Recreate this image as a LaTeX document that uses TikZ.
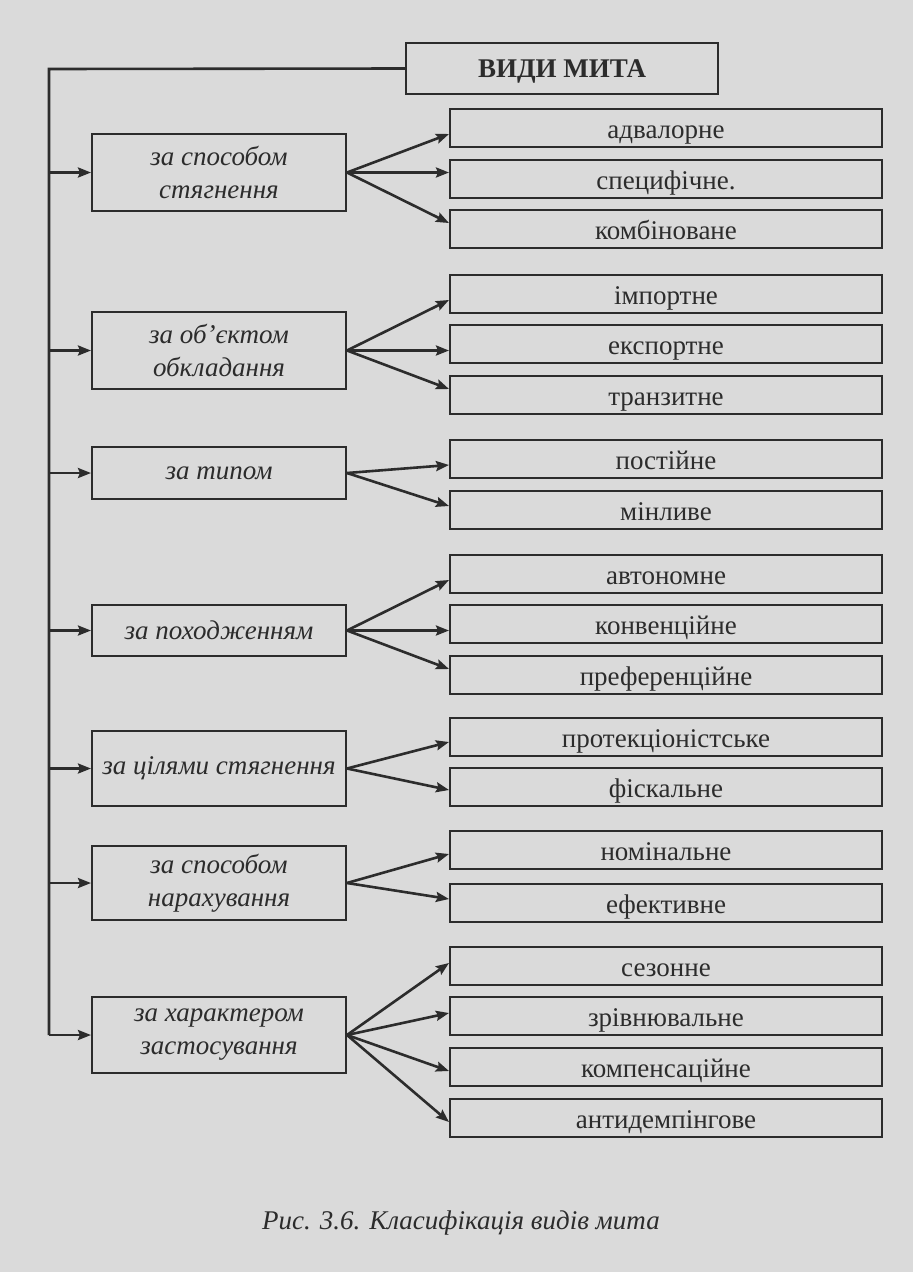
\documentclass[tikz,border=0pt]{standalone}
\usepackage{fontspec}
\setmainfont{Liberation Serif}
\usepackage{tikz}
\usetikzlibrary{positioning, arrows.meta, calc}

\definecolor{paper}{RGB}{218,218,218}
\definecolor{ink}{RGB}{44,44,44}

\begin{document}
\begin{tikzpicture}[x=1pt, y=-1pt,
    title/.style={draw=ink, rectangle, line width=2pt,
                  minimum width=312pt, minimum height=51pt, inner sep=0pt,
                  text height=19pt, text depth=1pt,
                  font=\fontsize{27}{30}\selectfont\bfseries, text=ink},
    crit/.style={draw=ink, rectangle, line width=2pt,
                 minimum width=254pt, inner sep=0pt, align=center,
                 font=\fontsize{27}{33}\selectfont\itshape, text=ink},
    kind/.style={draw=ink, rectangle, line width=2pt,
                 minimum width=432pt, minimum height=38pt, inner sep=0pt,
                 text height=22pt, text depth=2pt,
                 font=\fontsize{27}{30}\selectfont, text=ink},
    link/.style={draw=ink, line width=2.6pt, -{Stealth[length=13pt, width=10pt, inset=2pt]}},
    spine/.style={draw=ink, line width=2.6pt},
    caption/.style={font=\fontsize{27}{30}\selectfont\itshape, text=ink},
]

% === page ===
\fill[paper] (0,0) rectangle (913,1272);
\useasboundingbox (0,0) rectangle (913,1272);

% === title and left bus ===
\node[title] (vydy) at (562,68.5) {ВИДИ МИТА};
\coordinate (kut) at (49,69);
\coordinate (niz) at (49,1035);
\draw[spine] (vydy.west) -- (kut) -- (niz);

% === criteria ===
\node[crit, minimum height=77pt] (c1) at (219,172.5) {за способом\\стягнення};
\node[crit, minimum height=77pt] (c2) at (219,350.5) {за об’єктом\\обкладання};
\node[crit, minimum height=52pt] (c3) at (219,473)   {за типом};
\node[crit, minimum height=51pt] (c4) at (219,630.5) {за походженням};
\node[crit, minimum height=75pt] (c5) at (219,768.5) {за цілями стягнення};
\node[crit, minimum height=74pt] (c6) at (219,883)   {за способом\\нарахування};
\node[crit, minimum height=76pt] (c7) at (219,1035)  {за характером\\застосування};

\draw[link] (kut |- c1.west) -- (c1.west);
\draw[link] (kut |- c2.west) -- (c2.west);
\draw[link] (kut |- c3.west) -- (c3.west);
\draw[link] (kut |- c4.west) -- (c4.west);
\draw[link] (kut |- c5.west) -- (c5.west);
\draw[link] (kut |- c6.west) -- (c6.west);
\draw[link] (niz) -- (c7.west);

% === kinds ===
\node[kind] (r1)  at (666,128)  {адвалорне};
\node[kind] (r2)  at (666,179)  {специфічне.};
\node[kind] (r3)  at (666,229)  {комбіноване};
\node[kind] (r4)  at (666,294)  {імпортне};
\node[kind] (r5)  at (666,344)  {експортне};
\node[kind] (r6)  at (666,395)  {транзитне};
\node[kind] (r7)  at (666,459)  {постійне};
\node[kind] (r8)  at (666,510)  {мінливе};
\node[kind] (r9)  at (666,574)  {автономне};
\node[kind] (r10) at (666,624)  {конвенційне};
\node[kind] (r11) at (666,675)  {преференційне};
\node[kind] (r12) at (666,737)  {протекціоністське};
\node[kind] (r13) at (666,787)  {фіскальне};
\node[kind] (r14) at (666,850)  {номінальне};
\node[kind] (r15) at (666,903)  {ефективне};
\node[kind] (r16) at (666,966)  {сезонне};
\node[kind] (r17) at (666,1016) {зрівнювальне};
\node[kind] (r18) at (666,1067) {компенсаційне};
\node[kind] (r19) at (666,1118) {антидемпінгове};

% === fans (outer tips lean towards the source) ===
\draw[link] (c1.east) -- ([yshift=-6pt]r1.west);
\draw[link] (c1.east) -- (c1.east -| r2.west);
\draw[link] (c1.east) -- ([yshift=6pt]r3.west);
\draw[link] (c2.east) -- ([yshift=-6pt]r4.west);
\draw[link] (c2.east) -- (c2.east -| r5.west);
\draw[link] (c2.east) -- ([yshift=6pt]r6.west);
\draw[link] (c3.east) -- ([yshift=-6pt]r7.west);
\draw[link] (c3.east) -- ([yshift=4pt]r8.west);
\draw[link] (c4.east) -- ([yshift=-6pt]r9.west);
\draw[link] (c4.east) -- (c4.east -| r10.west);
\draw[link] (c4.east) -- ([yshift=6pt]r11.west);
\draw[link] (c5.east) -- ([yshift=-5pt]r12.west);
\draw[link] (c5.east) -- ([yshift=-3pt]r13.west);
\draw[link] (c6.east) -- ([yshift=-4pt]r14.west);
\draw[link] (c6.east) -- ([yshift=4pt]r15.west);
\draw[link] (c7.east) -- ([yshift=3pt]r16.west);
\draw[link] (c7.east) -- ([yshift=3pt]r17.west);
\draw[link] (c7.east) -- ([yshift=-4pt]r18.west);
\draw[link] (c7.east) -- ([yshift=-4pt]r19.west);

% === caption ===
\node[caption] (pidpys) at (461,1223) {Рис. 3.6. Класифікація видів мита};

\end{tikzpicture}
\end{document}
